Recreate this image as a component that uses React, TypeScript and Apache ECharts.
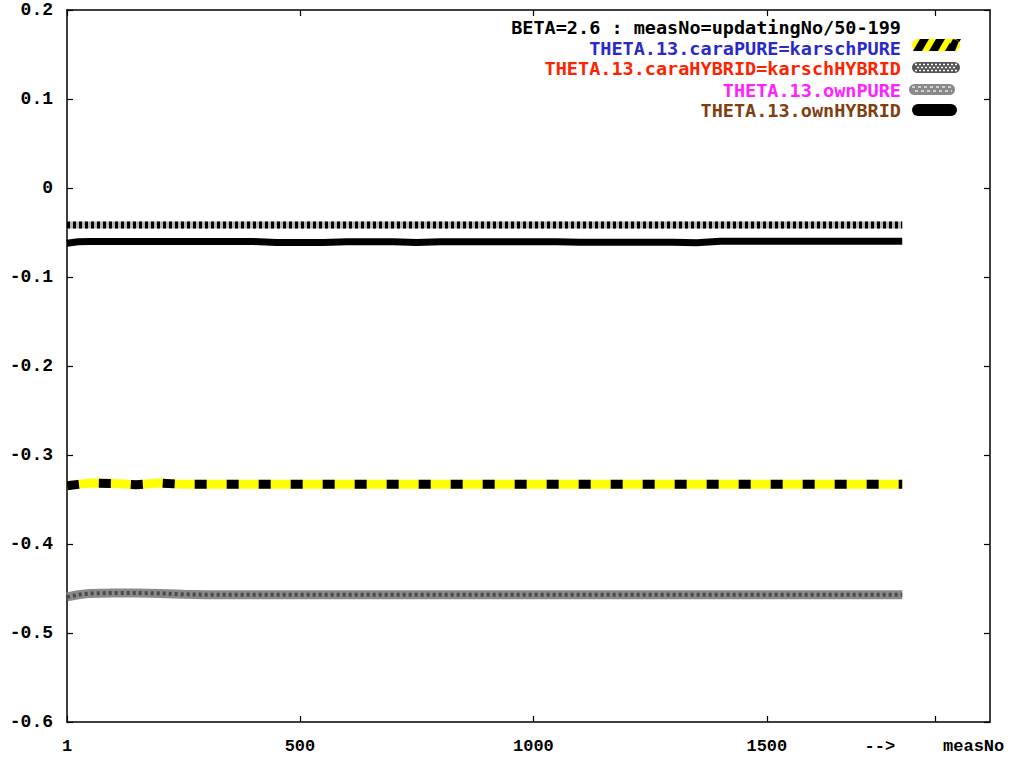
import React, { useEffect, useRef } from "react";
import * as echarts from "echarts";

const measNo = [1, 25, 50, 100, 150, 200, 250, 300, 350, 400, 450, 500, 550, 600, 650, 700, 750, 800, 850, 900, 950, 1000, 1050, 1100, 1150, 1200, 1250, 1300, 1350, 1400, 1450, 1500, 1550, 1600, 1650, 1700, 1750, 1790];

const caraPURE = [-0.3345, -0.333, -0.3315, -0.332, -0.3335, -0.3315, -0.333, -0.333, -0.333, -0.333, -0.333, -0.333, -0.333, -0.333, -0.333, -0.333, -0.333, -0.333, -0.333, -0.333, -0.333, -0.333, -0.333, -0.333, -0.333, -0.333, -0.333, -0.333, -0.333, -0.333, -0.333, -0.333, -0.333, -0.333, -0.333, -0.333, -0.333, -0.333];

const caraHYBRID = [-0.0415, -0.0415, -0.0415, -0.0415, -0.0415, -0.0415, -0.0415, -0.0415, -0.0415, -0.0415, -0.0415, -0.0415, -0.0415, -0.0415, -0.0415, -0.0415, -0.0415, -0.0415, -0.0415, -0.0415, -0.0415, -0.0415, -0.0415, -0.0415, -0.0415, -0.0415, -0.0415, -0.0415, -0.0415, -0.0415, -0.0415, -0.0415, -0.0415, -0.0415, -0.0415, -0.0415, -0.0415, -0.0415];

const ownPURE = [-0.4595, -0.457, -0.4555, -0.455, -0.455, -0.4555, -0.4565, -0.457, -0.457, -0.457, -0.457, -0.457, -0.457, -0.457, -0.457, -0.457, -0.457, -0.457, -0.457, -0.457, -0.457, -0.457, -0.457, -0.457, -0.457, -0.457, -0.457, -0.457, -0.457, -0.457, -0.457, -0.457, -0.457, -0.457, -0.457, -0.457, -0.457, -0.457];

const ownHYBRID = [-0.062, -0.0605, -0.06, -0.06, -0.06, -0.06, -0.06, -0.06, -0.06, -0.0602, -0.0612, -0.0612, -0.0612, -0.0605, -0.0605, -0.0605, -0.0613, -0.0603, -0.0603, -0.0603, -0.0603, -0.0603, -0.0603, -0.061, -0.061, -0.061, -0.061, -0.061, -0.0615, -0.0598, -0.0598, -0.0598, -0.0598, -0.0598, -0.0598, -0.0598, -0.0598, -0.0598];

const xTickValues = [1, 500, 1000, 1500, 1861];
const xLabelValues = [1, 500, 1000, 1500, 1742, 1943];
const xLabelTexts: Record<number, string> = { 1: "1", 500: "500", 1000: "1000", 1500: "1500", 1742: "-->", 1943: "measNo" };

const legendTitle = "BETA=2.6 : measNo=updatingNo/50-199";
const legendNames = ["THETA.13.caraPURE=karschPURE", "THETA.13.caraHYBRID=karschHYBRID", "THETA.13.ownPURE", "THETA.13.ownHYBRID"];
const legendColors = ["#2a2ac8", "#ff2200", "#ff22ff", "#7f3f0f"];

const pairs = (ys: number[]) => measNo.map((x, i) => [x, ys[i]]);

const LEG_FONT = "bold 18.5px 'DejaVu Sans Mono', monospace";
const AX_FONT = "'Liberation Mono', monospace";

export default function App() {
  const ref = useRef<HTMLDivElement>(null);
  useEffect(() => {
    if (!ref.current) return;
    const chart = echarts.init(ref.current, null, { renderer: "svg" });

    const lineSeries = (name: string, ys: number[], color: string, width: number, dash?: number[], z = 2) => ({
      name,
      type: "line",
      data: pairs(ys),
      showSymbol: false,
      symbol: "none",
      silent: true,
      z,
      lineStyle: { color, width, type: dash ? dash : "solid", cap: "butt" },
    });

    const legendX = 901;
    const legendY = [27, 48, 68, 90, 110];
    const iconX = 912;
    const iconW = 48;
    const iconH = 12;

    const graphic: any[] = [];
    graphic.push({
      type: "text",
      x: legendX,
      y: legendY[0],
      style: { text: legendTitle, align: "right", verticalAlign: "middle", fill: "#000", font: LEG_FONT },
    });
    legendNames.forEach((n, i) => {
      graphic.push({
        type: "text",
        x: legendX,
        y: legendY[i + 1],
        style: { text: n, align: "right", verticalAlign: "middle", fill: legendColors[i], font: LEG_FONT },
      });
    });
    // icon 1: yellow/black stripes
    const y1 = legendY[1] - 3 - iconH / 2;
    graphic.push({ type: "rect", shape: { x: iconX, y: y1, width: iconW, height: iconH, r: 6 }, style: { fill: "#ffff00" } });
    [913, 929, 945].forEach((x0) => {
      graphic.push({
        type: "polygon",
        shape: { points: [[x0, y1 + iconH], [x0 + 7, y1], [x0 + 16, y1], [x0 + 9, y1 + iconH]] },
        style: { fill: "#000" },
      });
    });
    graphic.push({ type: "rect", shape: { x: iconX + 38, y: y1, width: 10, height: iconH, r: [0, 6, 6, 0] }, style: { fill: "#ffff00" } });
    graphic.push({
      type: "polygon",
      shape: { points: [[iconX + 34, y1 + iconH], [iconX + 41, y1], [iconX + 47, y1 + 2], [iconX + 43, y1 + iconH]] },
      style: { fill: "#000" },
    });
    // icon 2: checker
    const y2 = legendY[2] - iconH / 2;
    graphic.push({ type: "rect", shape: { x: iconX, y: y2, width: iconW, height: iconH - 1, r: 5.5 }, style: { fill: "#555" } });
    [2.5, 5.5, 8.5].forEach((dy, k) => {
      graphic.push({
        type: "line",
        shape: { x1: iconX + 3, y1: y2 + dy, x2: iconX + iconW - 3, y2: y2 + dy },
        style: { stroke: "#fff", lineWidth: 1.6, lineDash: [2, 2], lineDashOffset: k % 2 ? 2 : 0 },
      });
    });
    // icon 3: gray
    const y3 = legendY[3] - iconH / 2;
    graphic.push({ type: "rect", shape: { x: iconX - 3, y: y3, width: iconW - 2, height: iconH - 1, r: 5.5 }, style: { fill: "#8a8a8a" } });
    [3, 7].forEach((dy, k) => {
      graphic.push({
        type: "line",
        shape: { x1: iconX, y1: y3 + dy, x2: iconX + iconW - 8, y2: y3 + dy },
        style: { stroke: "#d0d0d0", lineWidth: 2, lineDash: [3, 3], lineDashOffset: k % 2 ? 3 : 0 },
      });
    });
    // icon 4: black
    const y4 = legendY[4] - iconH / 2;
    graphic.push({ type: "rect", shape: { x: iconX, y: y4, width: iconW - 3, height: iconH, r: 6 }, style: { fill: "#000" } });

    const yFmt = (v: number) => {
      const r = Math.round(v * 10) / 10;
      return r === 0 ? "0" : r.toFixed(1);
    };

    const axLine = { show: true, onZero: false, lineStyle: { color: "#000", width: 1.5 } };

    chart.setOption({
      animation: false,
      backgroundColor: "#fff",
      grid: { left: 67, top: 10, right: 21, bottom: 35, containLabel: false, outerBoundsMode: "none" },
      xAxis: [
        {
          type: "value",
          min: 1,
          max: 1978,
          position: "bottom",
          axisLine: axLine,
          axisTick: { show: true, inside: true, length: 6, customValues: xTickValues, lineStyle: { color: "#000", width: 1.2 } },
          axisLabel: {
            show: true,
            customValues: xLabelValues,
            formatter: (v: number) => xLabelTexts[v] ?? "",
            color: "#000",
            fontFamily: AX_FONT,
            fontWeight: "bold",
            fontSize: 17,
            margin: 16,
            showMinLabel: true,
            showMaxLabel: true,
            hideOverlap: false,
          },
          splitLine: { show: false },
        },
        {
          type: "value",
          min: 1,
          max: 1978,
          position: "top",
          axisLine: axLine,
          axisTick: { show: true, inside: true, length: 6, customValues: xTickValues, lineStyle: { color: "#000", width: 1.2 } },
          axisLabel: { show: false },
          splitLine: { show: false },
        },
      ],
      yAxis: [
        {
          type: "value",
          min: -0.6,
          max: 0.2,
          interval: 0.1,
          position: "left",
          axisLine: axLine,
          axisTick: { show: true, inside: true, length: 6, lineStyle: { color: "#000", width: 1.2 } },
          axisLabel: {
            formatter: yFmt,
            color: "#000",
            fontFamily: AX_FONT,
            fontWeight: "bold",
            fontSize: 18,
            margin: 14,
          },
          splitLine: { show: false },
        },
        {
          type: "value",
          min: -0.6,
          max: 0.2,
          interval: 0.1,
          position: "right",
          axisLine: axLine,
          axisTick: { show: true, inside: true, length: 6, lineStyle: { color: "#000", width: 1.2 } },
          axisLabel: { show: false },
          splitLine: { show: false },
        },
      ],
      series: [
        lineSeries("THETA.13.caraPURE=karschPURE", caraPURE, "#ffff00", 9, undefined, 2),
        lineSeries("THETA.13.caraPURE=karschPURE (stripes)", caraPURE, "#000", 9, [12, 20], 3),
        lineSeries("THETA.13.caraHYBRID=karschHYBRID", caraHYBRID, "#b8b8b8", 7, undefined, 2),
        lineSeries("THETA.13.caraHYBRID=karschHYBRID (checks)", caraHYBRID, "#000", 7, [3, 3], 3),
        lineSeries("THETA.13.ownPURE", ownPURE, "#8a8a8a", 9, undefined, 2),
        lineSeries("THETA.13.ownPURE (texture)", ownPURE, "#4a4a4a", 4, [3, 3], 3),
        lineSeries("THETA.13.ownHYBRID", ownHYBRID, "#000", 7, undefined, 2),
      ],
      graphic,
    });
    return () => chart.dispose();
  }, []);

  return <div ref={ref} style={{ position: "fixed", left: 0, top: 0, width: 1011, height: 757, background: "#fff" }} />;
}
